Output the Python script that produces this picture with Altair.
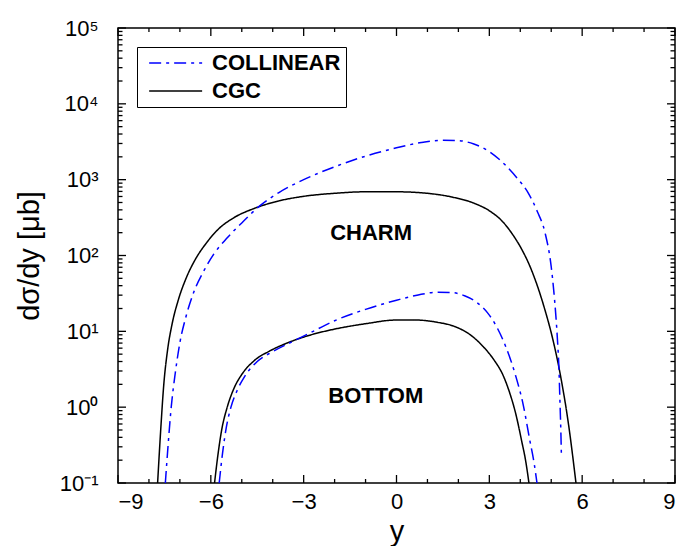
import altair as alt
import pandas as pd

# ---------------- data ----------------
x_major = [-9, -6, -3, 0, 3, 6, 9]
x_minor = [-8, -7, -5, -4, -2, -1, 1, 2, 4, 5, 7, 8]
y_major = [0.1, 1, 10, 100, 1000, 10000, 100000]
y_labels = ["10⁻¹", "10⁰", "10¹", "10²", "10³", "10⁴", "10⁵"]
y_minor = [k * 10.0 ** n for n in range(-1, 5) for k in range(2, 10)]

models = ["COLLINEAR", "CGC"]
model_colors = ["#0000ff", "#000000"]

charm_cgc_x = [-7.72, -7.62, -7.52, -7.40, -7.25, -7.05, -6.80, -6.50, -6.15, -5.75,
               -5.25, -4.60, -3.80, -3.00, -2.00, -1.00, 0.00, 1.00, 1.80, 2.50,
               3.00, 3.40, 3.75, 4.05, 4.30, 4.55, 4.80, 5.05, 5.30, 5.55, 5.80]
charm_cgc_y = [0.1, 0.5, 2.0, 5.6, 12.6, 26, 50, 89, 145, 224,
               316, 417, 525, 603, 661, 692, 692, 661, 589, 490,
               389, 288, 190, 120, 74, 40, 19, 7.9, 2.6, 0.63, 0.1]

charm_col_x = [-7.47, -7.38, -7.28, -7.15, -7.00, -6.80, -6.55, -6.25, -5.90, -5.50,
               -5.00, -4.43, -3.80, -3.00, -2.00, -1.00, 0.00, 0.80, 1.50, 2.00,
               2.50, 3.00, 3.50, 3.90, 4.25, 4.55, 4.80, 5.00, 5.08, 5.15,
               5.20, 5.25, 5.28, 5.31, 5.33]
charm_col_y = [0.1, 0.32, 1.0, 2.8, 7.1, 15.8, 33, 60, 105, 166,
               269, 447, 676, 1000, 1479, 2042, 2630, 3090, 3311, 3273,
               2951, 2344, 1585, 1047, 676, 380, 200, 71, 35, 16,
               7.9, 3.2, 1.26, 0.5, 0.22]

bottom_cgc_x = [-5.88, -5.78, -5.65, -5.47, -5.25, -5.00, -4.60, -4.10, -3.50, -2.80,
                -2.00, -1.00, 0.00, 0.60, 1.30, 1.90, 2.40, 2.80, 3.15, 3.45,
                3.65, 3.85, 4.05, 4.17, 4.28]
bottom_cgc_y = [0.1, 0.22, 0.5, 1.0, 1.78, 2.7, 4.1, 5.5, 7.1, 8.9,
                10.7, 12.6, 14.1, 14.1, 13.2, 11.5, 8.9, 6.3, 4.2, 2.6,
                1.58, 0.83, 0.35, 0.2, 0.1]

bottom_col_x = [-5.73, -5.62, -5.50, -5.35, -5.15, -4.90, -4.50, -4.00, -3.40, -2.80,
                -2.00, -1.00, 0.00, 0.70, 1.30, 1.80, 2.20, 2.60, 2.95, 3.25,
                3.55, 3.85, 4.10, 4.30, 4.45, 4.54]
bottom_col_y = [0.1, 0.25, 0.54, 1.0, 1.66, 2.57, 4.0, 5.4, 7.2, 9.5,
                13.8, 19.5, 25.7, 30.2, 32.7, 32.4, 29.5, 24.0, 17.4, 11.2,
                6.0, 2.6, 1.05, 0.38, 0.18, 0.1]

label_text = ["CHARM", "BOTTOM"]
label_x = [-0.82, -0.67]
label_y = [200, 1.4]

# ---------------- tables ----------------
rows = []
for model, flavor, xs, ys in [
    ("CGC", "charm", charm_cgc_x, charm_cgc_y),
    ("COLLINEAR", "charm", charm_col_x, charm_col_y),
    ("CGC", "bottom", bottom_cgc_x, bottom_cgc_y),
    ("COLLINEAR", "bottom", bottom_col_x, bottom_col_y),
]:
    for xv, yv in zip(xs, ys):
        rows.append({"model": model, "flavor": flavor, "x": xv, "y": yv})
curves = pd.DataFrame(rows)
labels = pd.DataFrame({"text": label_text, "x": label_x, "y": label_y})

W, H = 557, 455
FONT = "Liberation Sans"
XMIN, XMAX = -9, 9
YMIN, YMAX = 0.1, 100000
PX_PER_X = W / (XMAX - XMIN)          # pixels per x unit
PX_PER_DEC = H / 6.0                  # pixels per decade

# inward tick segments on all four sides (tick length in pixels -> data units)
tick_rows = []
for vals, length in [(x_major, 8), (x_minor, 4)]:
    fy = 10 ** (length / PX_PER_DEC)
    for v in vals:
        tick_rows.append({"x": v, "x2": v, "y": YMIN, "y2": YMIN * fy})
        tick_rows.append({"x": v, "x2": v, "y": YMAX, "y2": YMAX / fy})
for vals, length in [(y_major, 8), (y_minor, 4.5)]:
    dx = length / PX_PER_X
    for v in vals:
        tick_rows.append({"x": XMIN, "x2": XMIN + dx, "y": v, "y2": v})
        tick_rows.append({"x": XMAX, "x2": XMAX - dx, "y": v, "y2": v})
ticks = pd.DataFrame(tick_rows)

xscale = alt.Scale(domain=[XMIN, XMAX], nice=False, zero=False)
yscale = alt.Scale(type="log", domain=[YMIN, YMAX], nice=False)

label_expr = "[" + ",".join("'%s'" % s for s in y_labels) + "][round(log(datum.value)/LN10)+1]"

xaxis = alt.Axis(values=x_major, format="d", tickSize=0, domain=False, grid=False,
                 labelFontSize=22, labelPadding=8, labelFont=FONT, labelColor="black",
                 title="y", titleFontSize=29, titleFont=FONT, titleFontWeight="normal",
                 titleColor="black", titleBaseline="alphabetic", titleY=57)
yaxis = alt.Axis(values=y_major, labelExpr=label_expr, tickSize=0, domain=False, grid=False,
                 labelFontSize=22, labelPadding=20, labelFont=FONT, labelColor="black",
                 title="dσ/dy [μb]", titleFontSize=29, titleFont=FONT,
                 titleFontWeight="normal", titleColor="black",
                 titleX=-89, titleY=H / 2, titleAngle=-90, titleBaseline="middle",
                 titleAlign="center")

lines = alt.Chart(curves).mark_line(clip=True, strokeWidth=1.5, interpolate="monotone").encode(
    x=alt.X("x:Q", scale=xscale, axis=xaxis),
    y=alt.Y("y:Q", scale=yscale, axis=yaxis),
    color=alt.Color("model:N", scale=alt.Scale(domain=models, range=model_colors),
                    legend=alt.Legend(title=None, orient="none", legendX=19, legendY=19)),
    strokeDash=alt.StrokeDash("model:N",
                              scale=alt.Scale(domain=models, range=[[12, 5, 3, 5], [1, 0]]),
                              legend=alt.Legend(title=None, orient="none", legendX=19, legendY=19)),
    detail="flavor:N",
)

tick_layer = alt.Chart(ticks).mark_rule(color="black", strokeWidth=1.3).encode(
    x=alt.X("x:Q", scale=xscale),
    x2="x2:Q",
    y=alt.Y("y:Q", scale=yscale),
    y2="y2:Q",
)

text = alt.Chart(labels).mark_text(font=FONT, fontSize=22, fontWeight="bold", color="black").encode(
    x=alt.X("x:Q", scale=xscale), y=alt.Y("y:Q", scale=yscale), text="text:N")

chart = alt.layer(lines, tick_layer, text).properties(
    width=W, height=H,
    autosize=alt.AutoSizeParams(type="none"),
    padding={"left": 118, "top": 28, "right": 6, "bottom": 63},
    background="white",
).configure_view(
    stroke="black", strokeWidth=1.5
).configure_legend(
    strokeColor="black", strokeWidth=1, padding=5, fillColor="white",
    labelFont=FONT, labelFontSize=22, labelFontWeight="bold", labelColor="black",
    symbolType="M-0.435,0L5.554,0", symbolSize=313, symbolStrokeWidth=1.5, labelOffset=48,
    rowPadding=6, cornerRadius=0,
)

chart.save("out.html", embed_options={"renderer": "svg", "actions": False})
